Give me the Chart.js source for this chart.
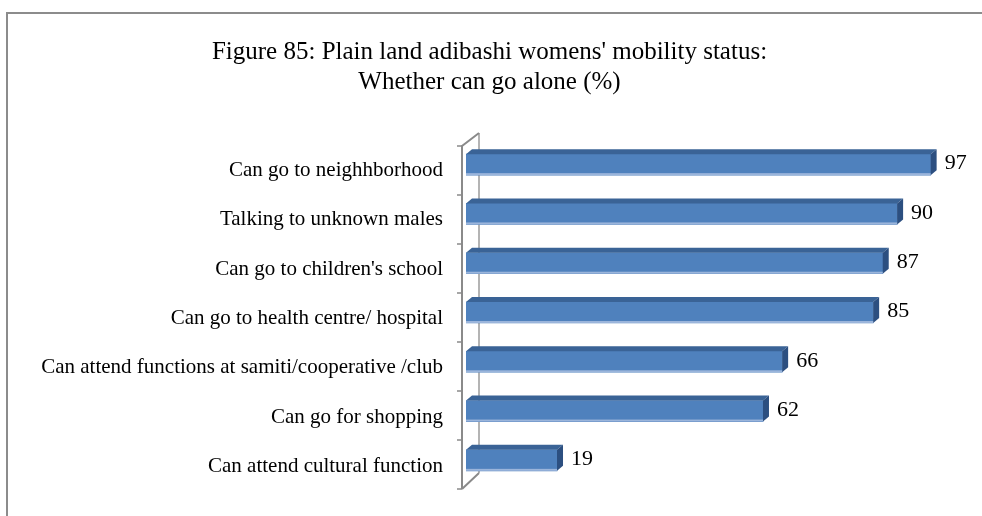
<!DOCTYPE html>
<html>
<head>
<meta charset="utf-8">
<script src="https://cdn.jsdelivr.net/npm/chart.js@4.4.0/dist/chart.umd.min.js"></script>
<style>
  html, body { margin: 0; padding: 0; background: #fff; }
  #wrap { width: 982px; height: 516px; position: relative; }
</style>
</head>
<body>
<div id="wrap"><canvas id="barChart"></canvas></div>
<script>
const categories = [
    "Can go to neighhborhood",
    "Talking to unknown males",
    "Can go to children's school",
    "Can go to health centre/ hospital",
    "Can attend functions at samiti/cooperative /club",
    "Can go for shopping",
    "Can attend cultural function"
];
const percents = [97, 90, 87, 85, 66, 62, 19];
const titleLines = [
    "Figure 85: Plain land adibashi womens' mobility status:",
    "Whether can go alone (%)"
];

const serif = "'Liberation Serif', 'Times New Roman', serif";
const dx = 6, dy = 5;   // depth of the 3d bars

// outer frame of the picture
const framePlugin = {
    id: "frame",
    beforeDraw(chart) {
        const c = chart.ctx;
        c.save();
        c.strokeStyle = "#8c8c8c";
        c.lineWidth = 2;
        c.beginPath();
        c.moveTo(982, 13);
        c.lineTo(7, 13);
        c.lineTo(7, 516);
        c.stroke();
        c.restore();
    }
};

// 3d wall on the left side
const wallPlugin = {
    id: "wall",
    beforeDatasetsDraw(chart) {
        const c = chart.ctx;
        const a = chart.chartArea;
        const fx = a.left - 4, bx = a.left + 13;
        const ft = a.top + 6, fb = a.bottom + 4;
        const bt = a.top - 7, bb = a.bottom - 12;
        c.save();
        c.lineWidth = 2;
        c.strokeStyle = "#b4b4b4";
        c.beginPath();
        c.moveTo(bx, bt); c.lineTo(bx, bb);
        c.stroke();
        c.strokeStyle = "#8a8a8a";
        c.beginPath();
        c.moveTo(fx, fb); c.lineTo(fx, ft); c.lineTo(bx, bt);
        c.moveTo(fx, fb); c.lineTo(bx, bb);
        c.stroke();
        const step = (fb - ft) / categories.length;
        c.lineWidth = 1.5;
        c.beginPath();
        for (let i = 0; i <= categories.length; i++) {
            const y = ft + i * step;
            c.moveTo(fx - 5, y);
            c.lineTo(fx, y);
        }
        c.stroke();
        c.restore();
    }
};

// top / side faces of the bars and the value labels
const bar3dPlugin = {
    id: "bar3d",
    afterDatasetsDraw(chart) {
        const c = chart.ctx;
        const meta = chart.getDatasetMeta(0);
        c.save();
        meta.data.forEach((bar, i) => {
            const top = bar.y - bar.height / 2;
            const bot = bar.y + bar.height / 2;
            const x0 = bar.base, x1 = bar.x;
            // top face
            c.fillStyle = "#3a6396";
            c.beginPath();
            c.moveTo(x0, top);
            c.lineTo(x0 + dx, top - dy);
            c.lineTo(x1 + dx, top - dy);
            c.lineTo(x1, top);
            c.closePath();
            c.fill();
            // side face
            c.fillStyle = "#2c4f80";
            c.beginPath();
            c.moveTo(x1, top);
            c.lineTo(x1 + dx, top - dy);
            c.lineTo(x1 + dx, bot - dy);
            c.lineTo(x1, bot);
            c.closePath();
            c.fill();
            // light lower edge
            c.fillStyle = "#9bb5db";
            c.fillRect(x0, bot - 2, x1 - x0, 2);

            c.fillStyle = "#000";
            c.font = "22px " + serif;
            c.textAlign = "left";
            c.textBaseline = "middle";
            c.fillText(percents[i], x1 + dx + 8, bar.y - 1);
        });
        c.restore();
    }
};

const ctx = document.getElementById("barChart").getContext("2d");
const barChart = new Chart(ctx, {
    type: "bar",
    data: {
        labels: categories,
        datasets: [{
            label: "Can go alone (%)",
            data: percents,
            backgroundColor: "#4f81bd",
            borderWidth: 0,
            barThickness: 21
        }]
    },
    options: {
        indexAxis: "y",
        responsive: true,
        maintainAspectRatio: false,
        animation: false,
        layout: {
            padding: { top: 0, right: 37, bottom: 31, left: 34 }
        },
        plugins: {
            legend: { display: false },
            tooltip: { enabled: false },
            title: {
                display: true,
                text: titleLines,
                color: "#000",
                font: { family: serif, size: 25, weight: "normal", lineHeight: 1.2 },
                padding: { top: 37, bottom: 43 }
            }
        },
        scales: {
            x: {
                display: false,
                min: 0,
                max: 100
            },
            y: {
                grid: { display: false, drawTicks: false },
                border: { display: false },
                afterFit: function (scale) {
                    scale.width = 432;
                    // label padding should not push the plot area
                    scale.paddingTop = 0;
                    scale.paddingBottom = 0;
                },
                ticks: {
                    color: "#000",
                    padding: 23,
                    labelOffset: 6,
                    font: { family: serif, size: 21 }
                }
            }
        }
    },
    plugins: [framePlugin, wallPlugin, bar3dPlugin]
});
</script>
</body>
</html>
